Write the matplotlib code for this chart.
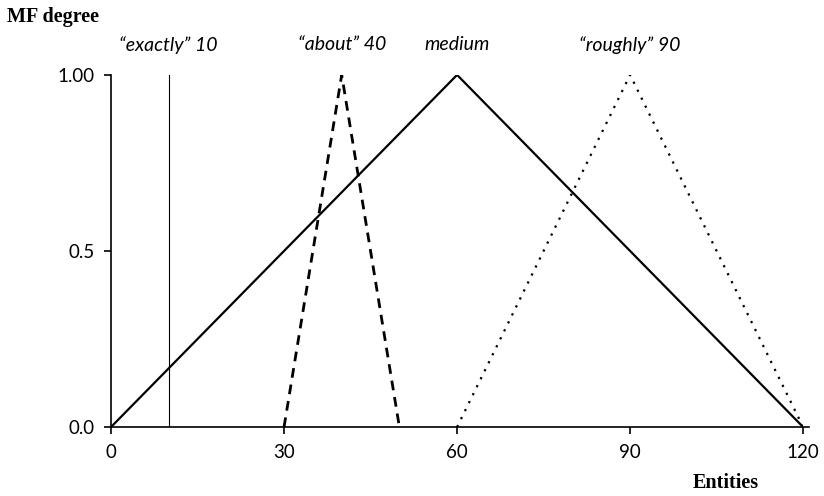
import matplotlib.pyplot as plt

# membership functions (x points, MF degree)
exactly_x = [10, 10]
exactly_y = [0, 1]
about_x = [30, 40, 50]
about_y = [0, 1, 0]
medium_x = [0, 60, 120]
medium_y = [0, 1, 0]
roughly_x = [60, 90, 120]
roughly_y = [0, 1, 0]

labels = ['\u201cexactly\u201d 10', '\u201cabout\u201d 40', 'medium', '\u201croughly\u201d 90']
label_x = [10, 40, 60, 90]

x_ticks = [0, 30, 60, 90, 120]
y_ticks = [0.0, 0.5, 1.0]
y_tick_labels = ['0.0', '0.5', '1.00']

fig = plt.figure(figsize=(8.24, 4.96), dpi=100)
ax = fig.add_axes([0.1347, 0.139, 0.84, 0.71])

ax.plot(exactly_x, exactly_y, color='black', lw=0.8)
ax.plot(about_x, about_y, color='black', lw=2, linestyle=(0, (3.5, 2.5)))
ax.plot(medium_x, medium_y, color='black', lw=1.6)
ax.plot(roughly_x, roughly_y, color='black', lw=1.6, linestyle=(0, (1, 3)))

for lx, text in zip(label_x, labels):
    ax.text(lx, 1.085, text, ha='center', va='center', fontsize=14,
            family='Lato', style='italic')

ax.set_xlim(0, 120)
ax.set_ylim(0, 1.0)
ax.set_xticks(x_ticks)
ax.set_yticks(y_ticks)
ax.set_yticklabels(y_tick_labels)
for lab in ax.get_xticklabels() + ax.get_yticklabels():
    lab.set_family('Lato')
    lab.set_fontsize(13.5)

ax.spines['top'].set_visible(False)
ax.spines['right'].set_visible(False)
ax.spines['left'].set_linewidth(1.2)
ax.spines['bottom'].set_linewidth(1.2)
ax.spines['bottom'].set_bounds(0, 121)
ax.tick_params(direction='out', length=5, width=1.2, pad=7)

fig.text(0.009, 0.965, 'MF degree', fontsize=14.5, fontweight='bold',
         family='Liberation Serif', va='center', ha='left')
fig.text(0.881, 0.026, 'Entities', fontsize=14.5, fontweight='bold',
         family='Liberation Serif', va='center', ha='center')

fig.savefig('out.png', dpi=100)
